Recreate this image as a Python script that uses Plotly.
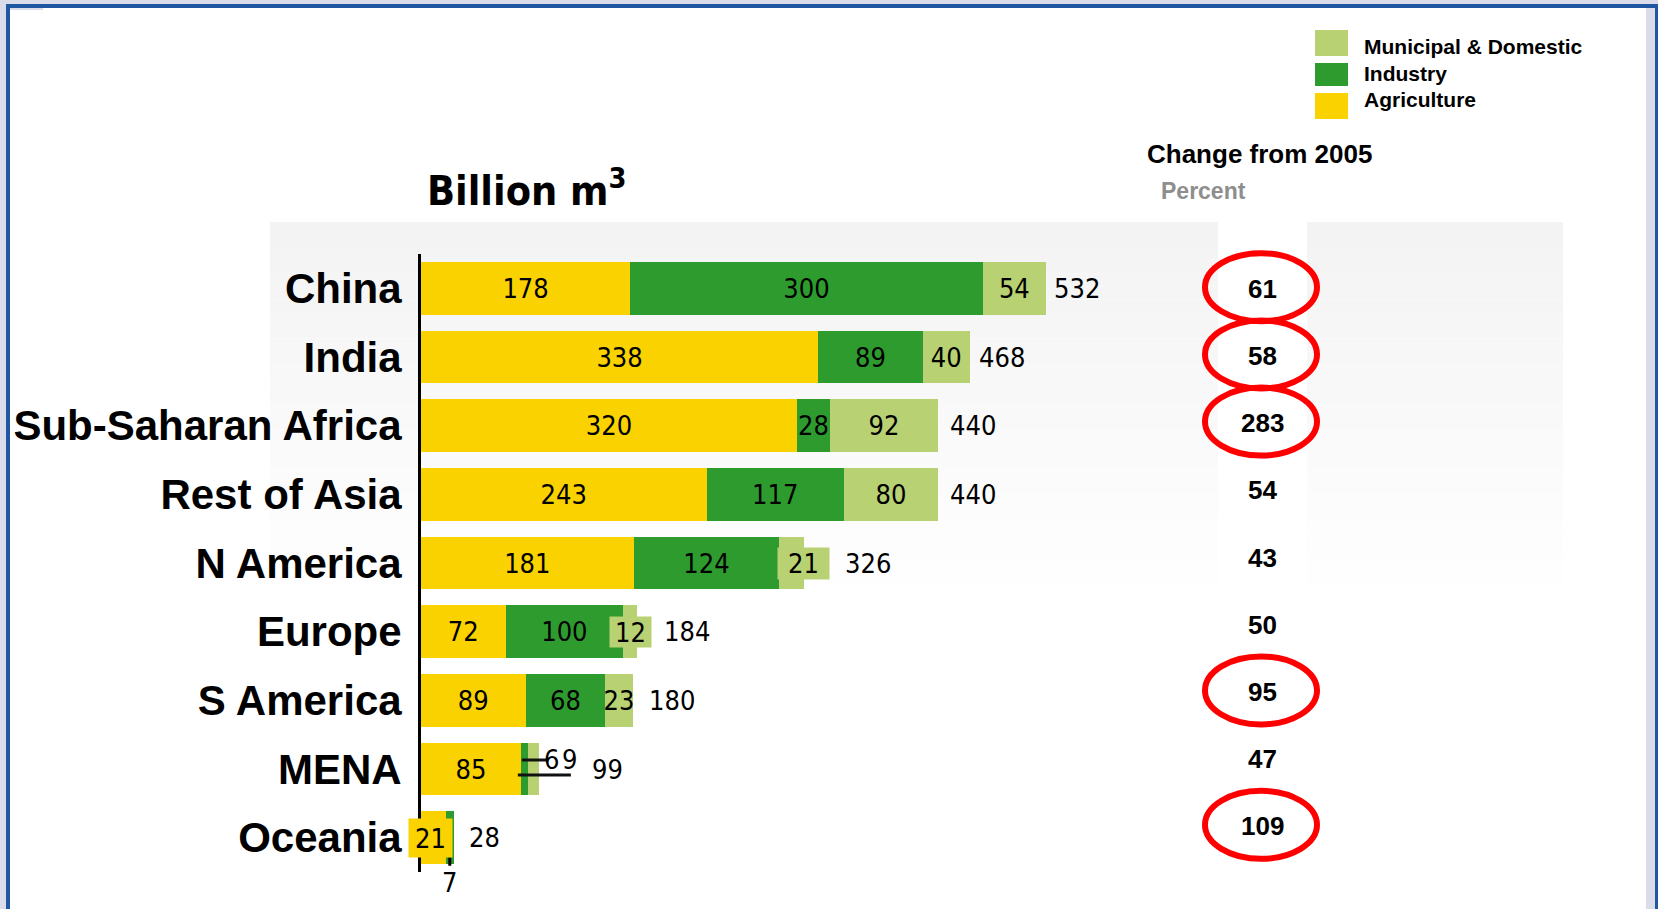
import plotly.graph_objects as go

# Water withdrawals by region and sector, billion m3
regions = ["China", "India", "Sub-Saharan Africa", "Rest of Asia", "N America",
           "Europe", "S America", "MENA", "Oceania"]
agriculture = [178, 338, 320, 243, 181, 72, 89, 85, 21]
industry = [300, 89, 28, 117, 124, 100, 68, 6, 7]
municipal = [54, 40, 92, 80, 21, 12, 23, 9, 0]
totals = [532, 468, 440, 440, 326, 184, 180, 99, 28]
change_pct = [61, 58, 283, 54, 43, 50, 95, 47, 109]
highlighted = ["China", "India", "Sub-Saharan Africa", "S America", "Oceania"]
series_names = ["Municipal & Domestic", "Industry", "Agriculture"]

COL_AGR = "#F9D200"
COL_IND = "#2E9B2E"
COL_MUN = "#B8D172"
RED = "#FF0000"
FRAME_BLUE = "#1F57A0"
FRAME_LAV = "#DADDE9"

W, H = 1658, 909
L, R, T, B = 421, 1126, 254, 872
XMAX = 600

BOLD = "Liberation Sans, Arial, sans-serif"
NARROW = "DejaVu Sans Condensed, Liberation Sans, sans-serif"


def px(xp):
    return (xp - L) / (R - L)


def py(yp):
    return (B - yp) / (B - T)


# segments whose labels are drawn as call-outs instead of inside the bar
callouts = {("Municipal", "N America"), ("Municipal", "Europe"),
            ("Agriculture", "Oceania"), ("Industry", "Oceania"),
            ("Industry", "MENA"), ("Municipal", "MENA")}


def seg_text(name, vals):
    out = []
    for r, v in zip(regions, vals):
        out.append(None if v == 0 or (name, r) in callouts else str(v))
    return out


fig = go.Figure()
for name, vals, col in [("Agriculture", agriculture, COL_AGR),
                        ("Industry", industry, COL_IND),
                        ("Municipal", municipal, COL_MUN)]:
    fig.add_trace(go.Bar(
        y=regions, x=vals, orientation="h", name=name,
        marker=dict(color=col, line=dict(width=0)),
        text=seg_text(name, vals), textposition="inside",
        insidetextanchor="middle", constraintext="none", textangle=0,
        textfont=dict(family=NARROW, size=27, color="black"),
        width=0.77, showlegend=False, hoverinfo="skip",
    ))

shapes = []

# shaded panel behind the bars, fading downwards
n_strips = 30
top_y, bot_y = 222, 610
for i in range(n_strips):
    y0 = top_y + (bot_y - top_y) * i / n_strips
    y1 = top_y + (bot_y - top_y) * (i + 1) / n_strips
    f = i / (n_strips - 1)
    c = int(round(243 + (255 - 243) * f))
    shapes.append(dict(type="rect", xref="paper", yref="paper", layer="below",
                       x0=px(270), x1=px(1563), y0=py(y1), y1=py(y0),
                       fillcolor=f"rgb({c},{c},{min(255, c + 1)})", line=dict(width=0)))
shapes.append(dict(type="rect", xref="paper", yref="paper", layer="below",
                   x0=px(1218), x1=px(1307), y0=py(bot_y), y1=py(top_y),
                   fillcolor="white", line=dict(width=0)))

# page frame
for x0, x1, y0, y1, col in [
    (0, 6, 0, H, FRAME_LAV), (0, W, 0, 4, FRAME_LAV), (1646, 1655, 8, H, FRAME_LAV),
    (10, 43, 8, 10, FRAME_LAV),
    (6, 10, 4, H, FRAME_BLUE), (6, W, 4, 8, FRAME_BLUE), (1655, W, 4, H, FRAME_BLUE),
]:
    shapes.append(dict(type="rect", xref="paper", yref="paper", layer="above",
                       x0=px(x0), x1=px(x1), y0=py(y1), y1=py(y0),
                       fillcolor=col, line=dict(width=0)))

# legend swatches
for (y0, y1), col in zip([(30, 56), (63, 86), (93, 119)], [COL_MUN, COL_IND, COL_AGR]):
    shapes.append(dict(type="rect", xref="paper", yref="paper",
                       x0=px(1315), x1=px(1348), y0=py(y1), y1=py(y0),
                       fillcolor=col, line=dict(width=0)))

annotations = []
for name, yc in zip(series_names, [46.5, 73, 99.4]):
    annotations.append(dict(text=name, xref="paper", yref="paper", x=px(1362), y=py(yc),
                            xanchor="left", yanchor="middle", showarrow=False,
                            font=dict(family=BOLD, size=21, color="black", weight="bold")))

# headings
annotations.append(dict(text="Billion m<sup>3</sup>", xref="paper", yref="paper",
                        x=px(527), y=py(188), xanchor="center", yanchor="middle",
                        showarrow=False,
                        font=dict(family=NARROW, size=41, color="black", weight="bold")))
annotations.append(dict(text="Change from 2005", xref="paper", yref="paper",
                        x=px(1259), y=py(154), xanchor="center", yanchor="middle",
                        showarrow=False,
                        font=dict(family=BOLD, size=26, color="black", weight="bold")))
annotations.append(dict(text="Percent", xref="paper", yref="paper",
                        x=px(1159), y=py(191), xanchor="left", yanchor="middle",
                        showarrow=False,
                        font=dict(family=BOLD, size=23, color="#8E8E8E", weight="bold")))

# percentage change column with highlighted regions ringed
for i, (r, v) in enumerate(zip(regions, change_pct)):
    yc = 288.7 + i * 67.2
    annotations.append(dict(text=str(v), xref="paper", yref="paper", x=px(1262), y=py(yc),
                            xanchor="center", yanchor="middle", showarrow=False,
                            font=dict(family=BOLD, size=26, color="black", weight="bold")))
    if r in highlighted:
        yc2 = yc - 1.5
        shapes.append(dict(type="circle", xref="paper", yref="paper",
                           x0=px(1261 - 56), x1=px(1261 + 56),
                           y0=py(yc2 + 34), y1=py(yc2 - 34),
                           line=dict(color=RED, width=6)))

# totals to the right of each bar
total_shift = [6, 6, 10, 10, 39, 25, 14, 53, 13]
for r, t, s in zip(regions, totals, total_shift):
    annotations.append(dict(text=str(t), x=t, y=r, xref="x", yref="y",
                            xanchor="left", yanchor="middle", xshift=s, showarrow=False,
                            font=dict(family=NARROW, size=27, color="black")))

# call-out labels for short segments
ri = {r: i for i, r in enumerate(regions)}
na = ri["N America"]
annotations.append(dict(text=str(municipal[na]), x=agriculture[na] + industry[na], y=regions[na],
                        xref="x", yref="y", xanchor="left", yanchor="middle", xshift=-2,
                        showarrow=False, bgcolor=COL_MUN, width=49, height=29,
                        font=dict(family=NARROW, size=27, color="black")))
eu = ri["Europe"]
annotations.append(dict(text=str(municipal[eu]), x=agriculture[eu] + industry[eu] + municipal[eu] / 2,
                        y=regions[eu], xref="x", yref="y", xanchor="center", yanchor="middle",
                        showarrow=False, bgcolor=COL_MUN, width=39, height=28,
                        font=dict(family=NARROW, size=27, color="black")))
oc = ri["Oceania"]
annotations.append(dict(text=str(agriculture[oc]), x=agriculture[oc] / 2, y=regions[oc],
                        xref="x", yref="y", xanchor="center", yanchor="middle", xshift=-3,
                        showarrow=False, bgcolor=COL_AGR, width=41, height=36,
                        font=dict(family=NARROW, size=27, color="black")))
annotations.append(dict(text=str(industry[oc]), x=agriculture[oc] + industry[oc] / 2, y=regions[oc],
                        xref="x", yref="y", yshift=-20, showarrow=True, arrowhead=0,
                        arrowwidth=3, arrowcolor="black", ax=0, ay=25, standoff=0,
                        font=dict(family=NARROW, size=27, color="black")))
me = ri["MENA"]
for val, shift in [(industry[me], 31), (municipal[me], 49)]:
    annotations.append(dict(text=str(val), x=agriculture[me], y=regions[me], xref="x", yref="y",
                            xanchor="center", yanchor="middle", xshift=shift, yshift=10,
                            showarrow=False,
                            font=dict(family=NARROW, size=27, color="black")))
for xa, xb, yo in [(1, 26, 9), (-3, 50, -6)]:
    shapes.append(dict(type="line", xref="x", yref="y", xsizemode="pixel", ysizemode="pixel",
                       xanchor=agriculture[me], yanchor=me, x0=xa, x1=xb, y0=yo, y1=yo,
                       line=dict(color="#111111", width=3)))

fig.update_layout(
    width=W, height=H, barmode="stack", bargap=0.23,
    margin=dict(l=L, r=W - R, t=T, b=H - B, pad=0),
    paper_bgcolor="white", plot_bgcolor="rgba(0,0,0,0)",
    xaxis=dict(range=[0, XMAX], visible=False, fixedrange=True),
    yaxis=dict(categoryorder="array", categoryarray=regions, autorange=False,
               range=[len(regions) - 0.5, -0.5], showline=True, linecolor="black",
               linewidth=3, showgrid=False, zeroline=False, ticks="",
               ticklabelstandoff=8,
               tickfont=dict(family=BOLD, size=42, color="black", weight="bold")),
    shapes=shapes, annotations=annotations, showlegend=False,
)

fig.write_html("out.html", config={"displayModeBar": False})
